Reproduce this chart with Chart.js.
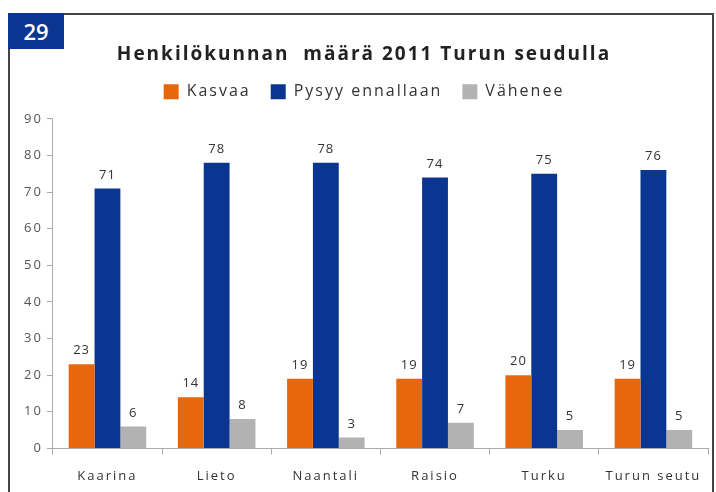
<!DOCTYPE html>
<html>
<head>
<meta charset="utf-8">
<script src="https://cdn.jsdelivr.net/npm/chart.js@4"></script>
<style>
  html, body { margin: 0; padding: 0; background: #fff; }
  #wrap { position: relative; width: 716px; height: 492px; overflow: hidden; }
  #frame { position: absolute; left: 8px; top: 13px; width: 702px; height: 500px; border: 2px solid #444; border-bottom: none; }
  #badge { position: absolute; left: 8px; top: 13px; width: 56px; height: 36px; background: #0a3590; color: #fff;
           font: 600 22px "Open Sans", sans-serif; line-height: 36px; text-align: center; }
  canvas { position: absolute; left: 0; top: 0; }
</style>
</head>
<body>
<div id="wrap">
  <div id="frame"></div>
  <div id="badge">29</div>
  <canvas id="chart" width="716" height="492"></canvas>
</div>
<script>
const categories = ['Kaarina', 'Lieto', 'Naantali', 'Raisio', 'Turku', 'Turun seutu'];
const kasvaa = [23, 14, 19, 19, 20, 19];
const pysyy = [71, 78, 78, 74, 75, 76];
const vahenee = [6, 8, 3, 7, 5, 5];
const yTicks = [0, 10, 20, 30, 40, 50, 60, 70, 80, 90];

const font = '"Open Sans", "DejaVu Sans", sans-serif';

// the original is a wide-spaced office export, so loosen all canvas text a little
const spacing = {
  id: 'spacing',
  beforeLayout(chart) { chart.ctx.letterSpacing = '2px'; },
  beforeDraw(chart) { chart.ctx.letterSpacing = '2px'; },
};

// draws the value above each bar
const valueLabels = {
  id: 'valueLabels',
  afterDatasetsDraw(chart) {
    const { ctx } = chart;
    ctx.save();
    ctx.font = '13px ' + font;
    ctx.letterSpacing = '1px';
    ctx.fillStyle = '#333';
    ctx.textAlign = 'center';
    ctx.textBaseline = 'bottom';
    chart.data.datasets.forEach((ds, i) => {
      chart.getDatasetMeta(i).data.forEach((bar, j) => {
        ctx.fillText(ds.data[j], bar.x, bar.y - 7);
      });
    });
    ctx.restore();
  },
};

new Chart(document.getElementById('chart'), {
  type: 'bar',
  data: {
    labels: categories,
    datasets: [
      { label: 'Kasvaa', data: kasvaa, backgroundColor: '#e8660c' },
      { label: 'Pysyy ennallaan', data: pysyy, backgroundColor: '#0a3590' },
      { label: 'Vähenee', data: vahenee, backgroundColor: '#b2b2b2' },
    ],
  },
  options: {
    responsive: false,
    animation: false,
    layout: { padding: { left: 20, right: 8, top: 43, bottom: -6 } },
    datasets: { bar: { categoryPercentage: 0.71, barPercentage: 1 } },
    plugins: {
      title: {
        display: true,
        text: 'Henkilökunnan  määrä 2011 Turun seudulla',
        color: '#222',
        font: { family: font, size: 19, weight: 'bold' },
        padding: { top: 0, bottom: -2 },
      },
      // empty subtitle used as a gap between the legend and the plot
      subtitle: {
        display: true,
        text: '',
        weight: 500,
        font: { size: 1, lineHeight: 1 },
        padding: { top: 0, bottom: 8 },
      },
      legend: {
        display: true,
        labels: {
          color: '#333',
          font: { family: font, size: 16 },
          boxWidth: 15,
          boxHeight: 15,
          padding: 20,
        },
      },
      tooltip: { enabled: false },
    },
    scales: {
      x: {
        grid: { display: true, drawOnChartArea: false, offset: true, color: '#aaa', tickLength: 6 },
        border: { color: '#aaa' },
        ticks: { color: '#333', font: { family: font, size: 13 }, padding: 14 },
      },
      y: {
        min: yTicks[0],
        max: yTicks[yTicks.length - 1],
        grid: { drawOnChartArea: false, color: '#aaa', tickLength: 6 },
        border: { color: '#aaa' },
        ticks: { stepSize: 10, color: '#555', font: { family: font, size: 13 }, padding: 4 },
        afterBuildTicks(axis) { axis.ticks = yTicks.map((v) => ({ value: v })); },
      },
    },
  },
  plugins: [spacing, valueLabels],
});
</script>
</body>
</html>
